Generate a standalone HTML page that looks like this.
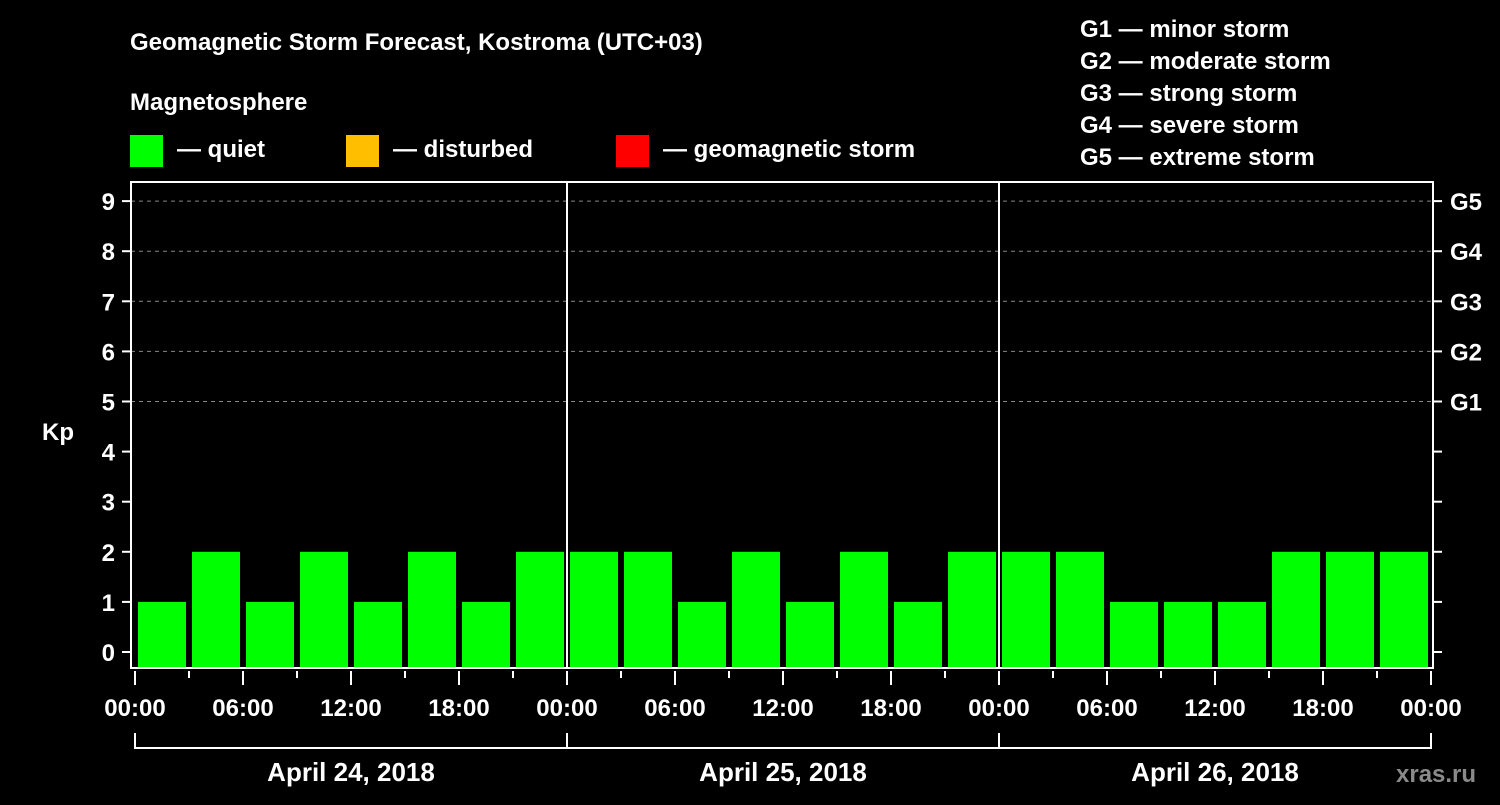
<!DOCTYPE html>
<html><head><meta charset="utf-8"><style>
body{margin:0;background:#000;width:1500px;height:800px;overflow:hidden}
svg text{font-family:"Liberation Sans",Arial,sans-serif;font-weight:bold;fill:#fff}
</style></head><body>
<svg id="c" width="1500" height="800" xmlns="http://www.w3.org/2000/svg">
<rect width="1500" height="800" fill="#000"/>
<text x="130" y="50" font-size="24">Geomagnetic Storm Forecast, Kostroma (UTC+03)</text>
<text x="130" y="110" font-size="24">Magnetosphere</text>
<rect x="130" y="135" width="33" height="32" fill="#00ff00"/>
<text x="177" y="157" font-size="24">— quiet</text>
<rect x="346" y="135" width="33" height="32" fill="#ffbf00"/>
<text x="393" y="157" font-size="24">— disturbed</text>
<rect x="616" y="135" width="33" height="32" fill="#ff0000"/>
<text x="663" y="157" font-size="24">— geomagnetic storm</text>
<g font-size="24">
<text x="1080" y="37">G1 — minor storm</text>
<text x="1080" y="69">G2 — moderate storm</text>
<text x="1080" y="101">G3 — strong storm</text>
<text x="1080" y="133">G4 — severe storm</text>
<text x="1080" y="165">G5 — extreme storm</text>
</g>
<text x="42" y="440" font-size="24">Kp</text>
<text x="1396" y="782" font-size="24" fill="#888" style="fill:#8a8a8a">xras.ru</text>
<g id="plot"></g>
</svg>
<script>
const days=["April 24, 2018","April 25, 2018","April 26, 2018"];
const kpValues=[1,2,1,2,1,2,1,2, 2,2,1,2,1,2,1,2, 2,2,1,1,1,2,2,2];
const yTicks=[0,1,2,3,4,5,6,7,8,9];
const gLabels=["G1","G2","G3","G4","G5"];
const gLevels=[5,6,7,8,9];
const hourLabels=["00:00","06:00","12:00","18:00"];
const X0=135,SLOT=54,L=131,R=1433,T=182,B=668;
const y=v=>652-v*50.1;
const xs=h=>X0+h/3*SLOT;
const g=document.getElementById('plot');
const NS="http://www.w3.org/2000/svg";
function mk(t,a,txt){const e=document.createElementNS(NS,t);for(const k in a)e.setAttribute(k,a[k]);if(txt!=null)e.textContent=txt;g.appendChild(e);return e;}
gLevels.forEach((v,i)=>{
 const l=mk('line',{x1:L,x2:R,y1:y(v),y2:y(v),stroke:'#888','stroke-dasharray':'4,4','stroke-width':1});
 
 
 const t=mk('text',{x:1450,y:y(v)+9,'font-size':24},gLabels[i]);
 
 
});
kpValues.forEach((v,i)=>{
 const r=mk('rect',{x:X0+i*SLOT+3,y:y(v),width:48,height:B-1-y(v),fill:v>=5?'#ff0000':(v>=4?'#ffbf00':'#00ff00')});
 
 
});
const fr=mk('rect',{x:L,y:T,width:R-L,height:B-T,fill:'none',stroke:'#fff','stroke-width':2});


yTicks.forEach(v=>{
 mk('line',{x1:122,x2:L,y1:y(v),y2:y(v),stroke:'#fff','stroke-width':2});
 mk('line',{x1:R,x2:1442,y1:y(v),y2:y(v),stroke:'#fff','stroke-width':2});
 const t=mk('text',{x:115,y:y(v)+9,'font-size':24,'text-anchor':'end'},String(v));
 
 
});
for(let d=1;d<days.length;d++){
 const l=mk('line',{x1:xs(d*24),x2:xs(d*24),y1:T,y2:B,stroke:'#fff','stroke-width':2});
 
 
}
for(let h=0;h<=days.length*24;h+=3){
 const major=h%6===0;
 mk('line',{x1:xs(h),x2:xs(h),y1:B+3,y2:major?B+17:B+10,stroke:'#fff','stroke-width':2});
 if(h%6===0&&h%24!==0||h%24===0){
  const lbl=hourLabels[(h%24)/6];
  const t=mk('text',{x:xs(h),y:716,'font-size':24,'text-anchor':'middle'},lbl);
  
  
 }
}
const br=mk('line',{x1:xs(0),x2:xs(days.length*24),y1:748,y2:748,stroke:'#fff','stroke-width':2});


for(let d=0;d<=days.length;d++) mk('line',{x1:xs(d*24),x2:xs(d*24),y1:733,y2:749,stroke:'#fff','stroke-width':2});
days.forEach((s,d)=>{
 const t=mk('text',{x:xs(d*24+12),y:781,'font-size':26,'text-anchor':'middle'},s);
 
 
});
</script>
</body></html>
